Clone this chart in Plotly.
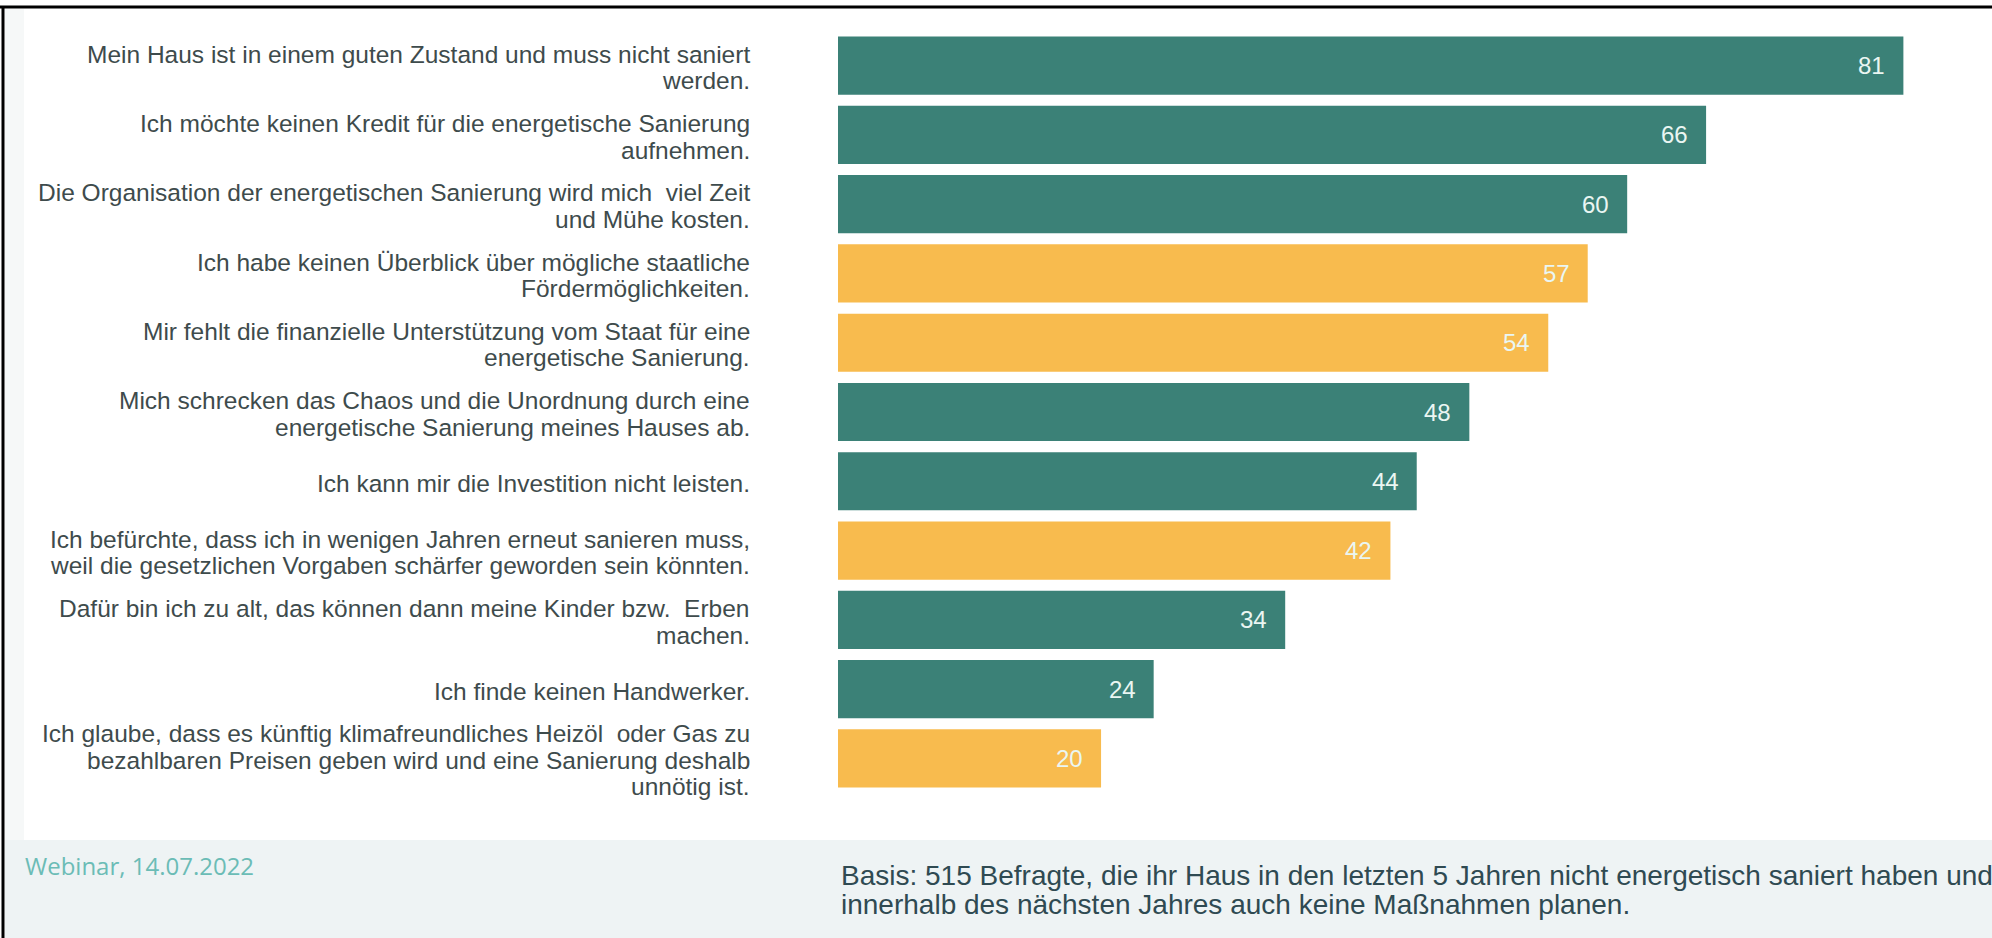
import plotly.graph_objects as go

# ---------------- data ----------------
categories = [
    "Mein Haus ist in einem guten Zustand und muss nicht saniert<br>werden.",
    "Ich möchte keinen Kredit für die energetische Sanierung<br>aufnehmen.",
    "Die Organisation der energetischen Sanierung wird mich  viel Zeit<br>und Mühe kosten.",
    "Ich habe keinen Überblick über mögliche staatliche<br>Fördermöglichkeiten.",
    "Mir fehlt die finanzielle Unterstützung vom Staat für eine<br>energetische Sanierung.",
    "Mich schrecken das Chaos und die Unordnung durch eine<br>energetische Sanierung meines Hauses ab.",
    "Ich kann mir die Investition nicht leisten.",
    "Ich befürchte, dass ich in wenigen Jahren erneut sanieren muss,<br>weil die gesetzlichen Vorgaben schärfer geworden sein könnten.",
    "Dafür bin ich zu alt, das können dann meine Kinder bzw.  Erben<br>machen.",
    "Ich finde keinen Handwerker.",
    "Ich glaube, dass es künftig klimafreundliches Heizöl  oder Gas zu<br>bezahlbaren Preisen geben wird und eine Sanierung deshalb<br>unnötig ist.",
]
values = [81, 66, 60, 57, 54, 48, 44, 42, 34, 24, 20]
highlight = [False, False, False, True, True, False, False, True, False, False, True]

footer_left = "Webinar, 14.07.2022"
footer_right = ("Basis: 515 Befragte, die ihr Haus in den letzten 5 Jahren nicht energetisch saniert haben und<br>"
                "innerhalb des nächsten Jahres auch keine Maßnahmen planen.")

# ---------------- style ----------------
W, H = 1992, 938
ML, MR, MT, MB = 838, 36, 31, 145
PW, PH = W - ML - MR, H - MT - MB
TEAL = "#3b8177"
ORANGE = "#f8bb4e"
LABEL_COLOR = "#3e4b4c"
FONT = "Liberation Sans, Arial, sans-serif"
LABEL_SIZE = 24.5
LINE_H = 26.5
FOOTER_TOP = 840


def px_x(px):
    return (px - ML) / PW


def px_y(py):
    return (H - MB - py) / PH


colors = [ORANGE if h else TEAL for h in highlight]

fig = go.Figure(
    go.Bar(
        x=values,
        y=categories,
        orientation="h",
        marker=dict(color=colors, line=dict(width=0)),
        width=0.84,
        hoverinfo="x+y",
    )
)

annotations = []
# category labels, one annotation per line for tight line spacing
for cat in categories:
    lines = cat.split("<br>")
    n = len(lines)
    for i, line in enumerate(lines):
        offset = (i - (n - 1) / 2) * LINE_H
        annotations.append(dict(
            x=0, y=cat, xref="x", yref="y",
            text=line, showarrow=False,
            xanchor="right", yanchor="middle",
            xshift=-86, yshift=-offset - 2,
            font=dict(family=FONT, size=LABEL_SIZE, color=LABEL_COLOR),
        ))

# value labels inside bar ends
for cat, v in zip(categories, values):
    annotations.append(dict(
        x=v, y=cat, xref="x", yref="y",
        text=str(v), showarrow=False,
        xanchor="right", yanchor="middle",
        xshift=-16,
        font=dict(family=FONT, size=24, color="#eaf6f2"),
    ))

# footer texts
annotations.append(dict(
    x=px_x(23), y=px_y(865), xref="paper", yref="paper",
    text=footer_left, showarrow=False, xanchor="left", yanchor="middle",
    font=dict(family="Open Sans, Liberation Sans, sans-serif", size=24, color="#6bbcb6"),
))
for i, line in enumerate(footer_right.split("<br>")):
    annotations.append(dict(
        x=px_x(839), y=px_y(875 + i * 30), xref="paper", yref="paper",
        text=line, showarrow=False, xanchor="left", yanchor="middle",
        font=dict(family=FONT, size=28, color="#2f4a52"),
    ))

shapes = [
    # footer band
    dict(type="rect", xref="paper", yref="paper",
         x0=px_x(5), x1=px_x(W + 5), y0=px_y(FOOTER_TOP), y1=px_y(H + 5),
         fillcolor="#eef3f4", line=dict(width=0), layer="below"),
    # light left strip
    dict(type="rect", xref="paper", yref="paper",
         x0=px_x(5), x1=px_x(24), y0=px_y(FOOTER_TOP), y1=px_y(9),
         fillcolor="#f6f8f8", line=dict(width=0), layer="below"),
    # frame lines
    dict(type="line", xref="paper", yref="paper",
         x0=px_x(0), x1=px_x(W), y0=px_y(7), y1=px_y(7),
         line=dict(color="#000000", width=3)),
    dict(type="line", xref="paper", yref="paper",
         x0=px_x(3), x1=px_x(3), y0=px_y(6), y1=px_y(H + 5),
         line=dict(color="#000000", width=3)),
]

fig.update_layout(
    width=W, height=H,
    margin=dict(l=ML, r=MR, t=MT, b=MB, pad=0),
    paper_bgcolor="#ffffff",
    plot_bgcolor="#ffffff",
    showlegend=False,
    annotations=annotations,
    shapes=shapes,
    xaxis=dict(range=[0, 85], visible=False, fixedrange=True),
    yaxis=dict(
        type="category",
        categoryorder="array", categoryarray=categories,
        range=[len(categories) - 0.5, -0.5],
        showticklabels=False, showgrid=False, zeroline=False,
        ticks="", showline=False, fixedrange=True,
    ),
    font=dict(family=FONT),
)

fig.write_html(
    "out.html",
    config={"displayModeBar": False},
    post_script="document.documentElement.style.overflow='hidden';document.body.style.overflow='hidden';document.body.style.margin='0';",
)
